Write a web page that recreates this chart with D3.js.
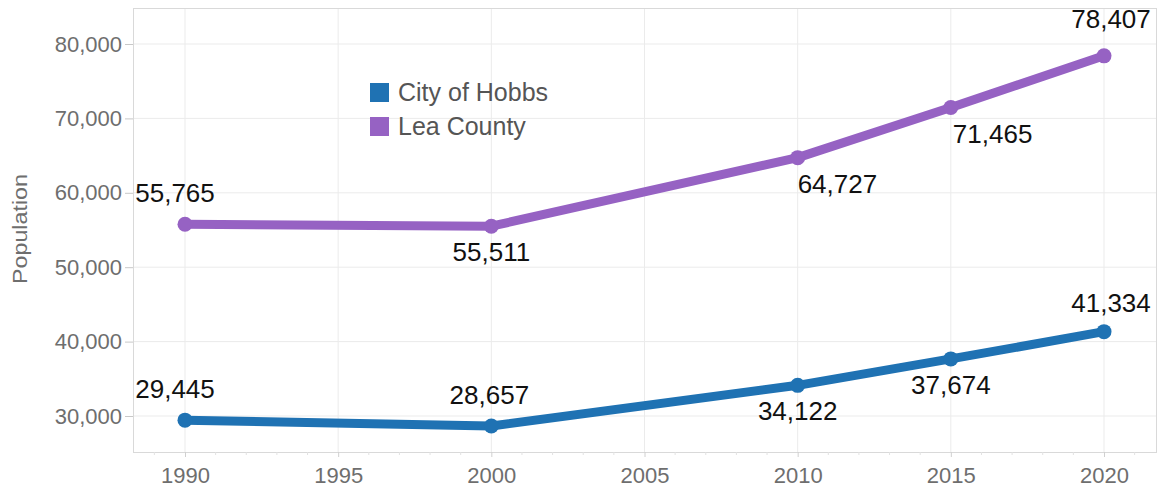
<!DOCTYPE html>
<html>
<head>
<meta charset="utf-8">
<script src="https://cdn.jsdelivr.net/npm/d3@7"></script>
<style>
  html, body { margin: 0; padding: 0; background: #fff; }
  svg { display: block; font-family: Arial, "Liberation Sans", sans-serif; }
</style>
</head>
<body>
<svg id="chart" width="1161" height="489"></svg>
<script>
// Population by census year
const years = [1990, 2000, 2010, 2015, 2020];
const hobbsPopulation = [29445, 28657, 34122, 37674, 41334];
const leaPopulation = [55765, 55511, 64727, 71465, 78407];
const seriesNames = ["City of Hobbs", "Lea County"];
const yTickValues = [30000, 40000, 50000, 60000, 70000, 80000];
const xTickValues = [1990, 1995, 2000, 2005, 2010, 2015, 2020];

// label placement per point (offset from the marker, text anchor)
const hobbsLabelPlacement = [
  { dx: -10, dy: -22, anchor: "middle" },
  { dx: -2, dy: -22, anchor: "middle" },
  { dx: 0, dy: 35, anchor: "middle" },
  { dx: 0, dy: 35, anchor: "middle" },
  { dx: 7, dy: -20, anchor: "middle" }
];
const leaLabelPlacement = [
  { dx: -10, dy: -22, anchor: "middle" },
  { dx: 0, dy: 35, anchor: "middle" },
  { dx: 0, dy: 35, anchor: "start" },
  { dx: 2, dy: 35, anchor: "start" },
  { dx: 7, dy: -28, anchor: "middle" }
];

const colors = ["#1f72b3", "#9662c3"];

const frame = { left: 133, right: 1156, top: 8, bottom: 452 };

const svg = d3.select("#chart");

const x = d3.scaleLinear().domain([1990, 2020]).range([185, 1104]);
const y = d3.scaleLinear().domain([30000, 80000]).range([416, 44]);

const fmt = d3.format(",");

// gridlines
const grid = svg.append("g");
grid.selectAll("line.h").data(yTickValues).join("line")
  .attr("x1", frame.left).attr("x2", frame.right)
  .attr("y1", d => y(d)).attr("y2", d => y(d))
  .attr("stroke", "#ebebeb").attr("stroke-width", 1);
grid.selectAll("line.v").data(xTickValues).join("line")
  .attr("x1", d => x(d)).attr("x2", d => x(d))
  .attr("y1", frame.top).attr("y2", frame.bottom)
  .attr("stroke", "#ebebeb").attr("stroke-width", 1);

// plot frame
svg.append("rect")
  .attr("x", frame.left + 0.5).attr("y", frame.top + 0.5)
  .attr("width", frame.right - frame.left).attr("height", frame.bottom - frame.top)
  .attr("fill", "none").attr("stroke", "#d9d9d9");

// y axis
const yAxis = svg.append("g")
  .attr("transform", `translate(${frame.left},0)`)
  .call(d3.axisLeft(y).tickValues(yTickValues).tickFormat(fmt).tickSize(8).tickPadding(3));
yAxis.select(".domain").remove();
yAxis.selectAll(".tick line").attr("stroke", "#c8c8c8");
yAxis.selectAll(".tick text")
  .attr("fill", "#6e6e6e").attr("font-size", 22)
  .attr("font-family", "Arial, 'Liberation Sans', sans-serif");

// x axis with yearly minor ticks
const minorYears = d3.range(1989, 2022).filter(v => v % 5 !== 0);
svg.append("g").selectAll("line").data(minorYears).join("line")
  .attr("x1", d => x(d)).attr("x2", d => x(d))
  .attr("y1", frame.bottom).attr("y2", frame.bottom + 3)
  .attr("stroke", "#e2e2e2");
const xAxis = svg.append("g")
  .attr("transform", `translate(0,${frame.bottom})`)
  .call(d3.axisBottom(x).tickValues(xTickValues).tickFormat(d3.format("d")).tickSize(5).tickPadding(10));
xAxis.select(".domain").remove();
xAxis.selectAll(".tick line").attr("stroke", "#d0d0d0");
xAxis.selectAll(".tick text")
  .attr("fill", "#6e6e6e").attr("font-size", 22)
  .attr("font-family", "Arial, 'Liberation Sans', sans-serif");

// axis title
svg.append("text")
  .attr("transform", "translate(27,229) rotate(-90)")
  .attr("text-anchor", "middle")
  .attr("fill", "#6e6e6e")
  .attr("font-size", 20)
  .attr("textLength", 110)
  .attr("lengthAdjust", "spacingAndGlyphs")
  .text("Population");

// series
const series = [
  { name: seriesNames[0], values: hobbsPopulation, placement: hobbsLabelPlacement, color: colors[0] },
  { name: seriesNames[1], values: leaPopulation, placement: leaLabelPlacement, color: colors[1] }
];

const line = d3.line().x(d => x(d.year)).y(d => y(d.value));

series.forEach(s => {
  const pts = years.map((yr, i) => ({ year: yr, value: s.values[i], place: s.placement[i] }));
  const g = svg.append("g");
  g.append("path").datum(pts)
    .attr("d", line)
    .attr("fill", "none")
    .attr("stroke", s.color)
    .attr("stroke-width", 9)
    .attr("stroke-linejoin", "round")
    .attr("stroke-linecap", "round");
  g.selectAll("circle").data(pts).join("circle")
    .attr("cx", d => x(d.year)).attr("cy", d => y(d.value))
    .attr("r", 7.5).attr("fill", s.color);
  g.selectAll("text").data(pts).join("text")
    .attr("x", d => x(d.year) + d.place.dx)
    .attr("y", d => y(d.value) + d.place.dy)
    .attr("text-anchor", d => d.place.anchor)
    .attr("font-size", 26)
    .attr("fill", "#111")
    .text(d => fmt(d.value));
});

// legend
const legend = svg.append("g").attr("transform", "translate(370,83)");
const items = legend.selectAll("g").data(series).join("g")
  .attr("transform", (d, i) => `translate(0,${i * 34})`);
items.append("rect").attr("width", 19).attr("height", 19).attr("fill", d => d.color);
items.append("text")
  .attr("x", 28).attr("y", 18)
  .attr("font-size", 25)
  .attr("fill", "#555")
  .text(d => d.name);
</script>
</body>
</html>
